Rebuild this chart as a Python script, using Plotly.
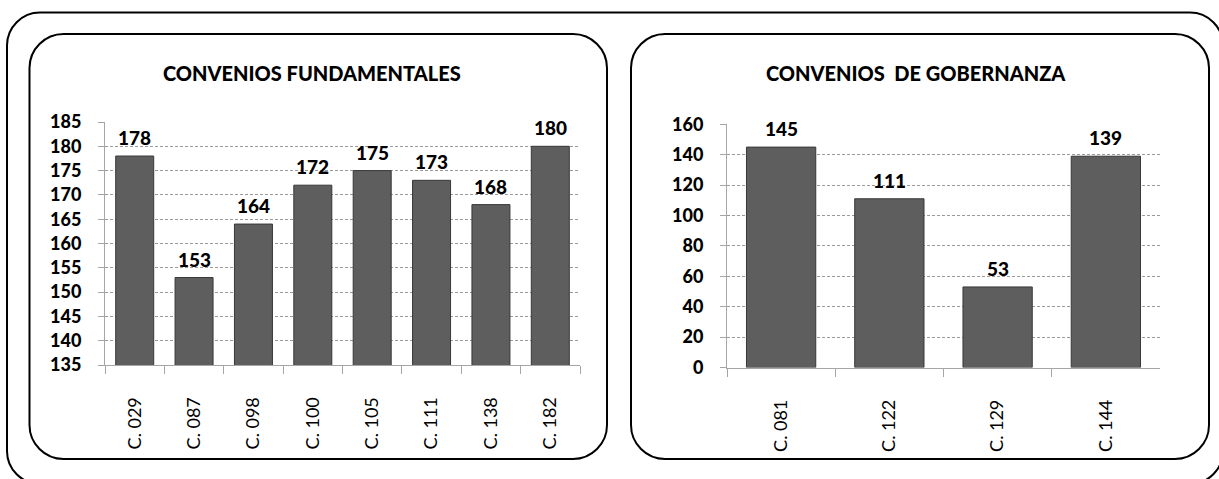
import plotly.graph_objects as go

W, H = 1219, 479

# ---- data ----
fund_cats = ["C. 029", "C. 087", "C. 098", "C. 100", "C. 105", "C. 111", "C. 138", "C. 182"]
fund_vals = [178, 153, 164, 172, 175, 173, 168, 180]
gob_cats = ["C. 081", "C. 122", "C. 129", "C. 144"]
gob_vals = [145, 111, 53, 139]
fund_title = "CONVENIOS FUNDAMENTALES"
gob_title = "CONVENIOS  DE GOBERNANZA"
fund_ticks = [135, 140, 145, 150, 155, 160, 165, 170, 175, 180, 185]
gob_ticks = [0, 20, 40, 60, 80, 100, 120, 140, 160]

FONT = "Lato"
BAR = "#5e5e5e"
BAR_LINE = "#383838"


def px(x):
    return x / W


def py(y):
    return 1 - y / H


def rrect(x0, y0, x1, y1, r):
    def P(x, y):
        return f"{px(x):.5f},{py(y):.5f}"
    k = 0.45
    d = (f"M {P(x0 + r, y0)} L {P(x1 - r, y0)} "
         f"C {P(x1 - r * k, y0)} {P(x1, y0 + r * k)} {P(x1, y0 + r)} "
         f"L {P(x1, y1 - r)} "
         f"C {P(x1, y1 - r * k)} {P(x1 - r * k, y1)} {P(x1 - r, y1)} "
         f"L {P(x0 + r, y1)} "
         f"C {P(x0 + r * k, y1)} {P(x0, y1 - r * k)} {P(x0, y1 - r)} "
         f"L {P(x0, y0 + r)} "
         f"C {P(x0, y0 + r * k)} {P(x0 + r * k, y0)} {P(x0 + r, y0)} Z")
    return dict(type="path", path=d, xref="paper", yref="paper",
                line=dict(color="black", width=2), layer="below")


fig = go.Figure()
fig.add_trace(go.Bar(x=fund_cats, y=fund_vals, xaxis="x", yaxis="y",
                     marker=dict(color=BAR, line=dict(color=BAR_LINE, width=1)),
                     hoverinfo="x+y", showlegend=False))
fig.add_trace(go.Bar(x=gob_cats, y=gob_vals, xaxis="x2", yaxis="y2",
                     marker=dict(color=BAR, line=dict(color=BAR_LINE, width=1)),
                     hoverinfo="x+y", showlegend=False))

LBL = dict(family=FONT, size=19, color="black", weight=900)
annotations = []
for c, v in zip(fund_cats, fund_vals):
    annotations.append(dict(x=c, y=v, xref="x", yref="y", text=str(v), showarrow=False,
                            yanchor="bottom", yshift=5, font=LBL))
for c, v in zip(gob_cats, gob_vals):
    annotations.append(dict(x=c, y=v, xref="x2", yref="y2", text=str(v), showarrow=False,
                            yanchor="bottom", yshift=5, font=LBL))
TTL = dict(family=FONT, size=20, color="black", weight=900)
annotations.append(dict(x=px(312), y=py(72.5), xref="paper", yref="paper", text=fund_title,
                        showarrow=False, xanchor="center", yanchor="middle", font=TTL))
annotations.append(dict(x=px(916), y=py(72.5), xref="paper", yref="paper", text=gob_title,
                        showarrow=False, xanchor="center", yanchor="middle", font=TTL))

xcommon = dict(type="category", showgrid=False, showline=True, linecolor="#a6a6a6", linewidth=1,
               ticks="outside", tickson="boundaries", ticklen=8, tickcolor="#a6a6a6",
               tickangle=-90, ticklabelstandoff=24, automargin=False,
               tickfont=dict(family=FONT, size=18, color="black"), fixedrange=True)
ycommon = dict(showgrid=True, gridcolor="#9a9a9a", griddash="3px,2px", gridwidth=1,
               showline=True, linecolor="#a6a6a6", linewidth=1, ticks="outside", ticklen=6,
               tickcolor="#a6a6a6", ticklabelstandoff=13, zeroline=False, automargin=False,
               tickfont=dict(family=FONT, size=18, color="black", weight=900), fixedrange=True)

fig.update_layout(
    template="none",
    width=W, height=H,
    autosize=False,
    margin=dict(l=0, r=0, t=0, b=0, pad=0),
    paper_bgcolor="white", plot_bgcolor="white",
    bargap=0.36,
    showlegend=False,
    xaxis=dict(domain=[px(105), px(580)], anchor="y", **xcommon),
    yaxis=dict(domain=[py(365), py(122)], anchor="x", range=[135, 185], tickvals=fund_ticks, **ycommon),
    xaxis2=dict(domain=[px(727), px(1160)], anchor="y2", **xcommon),
    yaxis2=dict(domain=[py(367.5), py(124.3)], anchor="x2", range=[0, 160], tickvals=gob_ticks, **ycommon),
    annotations=annotations,
    shapes=[rrect(7, 12.5, 1223, 484, 33),
            rrect(29.5, 34, 607, 459, 34),
            rrect(631, 34, 1209, 459, 34)],
)

fig.write_html("out.html", config={"displayModeBar": False})
